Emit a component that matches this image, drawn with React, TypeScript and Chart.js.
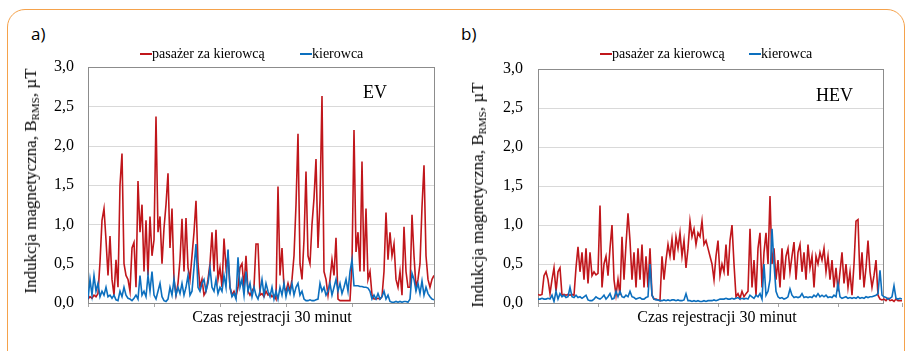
import React, { useEffect, useRef } from "react";
import { Chart, registerables } from "chart.js";

Chart.register(...registerables);

// ---- data ----
const EV_PASSENGER = [
  0.05, 0.08, 0.06, 0.1, 0.08, 0.12, 0.52, 1.05, 1.2, 0.8,
  0.35, 0.85, 0.3, 0.1, 0.55, 0.2, 1.5, 1.9, 0.5, 0.35,
  0.3, 0.15, 0.7, 0.77, 0.2, 1.55, 0.9, 1.25, 0.4, 1.05,
  0.35, 1.1, 0.6, 0.8, 2.37, 0.9, 1.1, 0.5, 0.95, 1.25,
  1.65, 0.7, 1.2, 0.3, 0.1, 0.25, 0.55, 1.07, 0.4, 1.08,
  0.45, 0.3, 0.6, 0.9, 1.3, 0.5, 0.2, 0.3, 0.1, 0.15,
  0.3, 0.5, 0.9, 0.4, 0.93, 0.3, 0.45, 0.2, 0.82, 0.45,
  0.6, 0.2, 0.1, 0.15, 0.08, 0.2, 0.45, 0.5, 0.2, 0.6,
  0.15, 0.1, 0.15, 0.2, 0.75, 0.75, 0.1, 0.12, 0.08, 0.15,
  0.1, 0.12, 0.08, 0.1, 0.05, 1.48, 0.35, 0.7, 0.2, 0.15,
  0.25, 0.15, 0.3, 0.6, 1.25, 2.15, 0.5, 0.3, 0.8, 1.67,
  0.6, 0.5, 1.0, 1.33, 1.83, 0.7, 1.3, 2.63, 0.4, 0.3,
  0.1, 0.3, 0.55, 0.35, 0.83, 0.05, 0.03, 0.03, 0.03, 0.03,
  0.03, 0.03, 0.5, 2.2, 0.65, 0.9, 0.4, 1.8, 0.4, 1.2,
  0.3, 0.4, 0.1, 0.05, 0.05, 0.06, 0.05, 0.08, 0.4, 1.15,
  0.55, 0.9, 0.6, 0.75, 0.3, 0.2, 0.4, 0.1, 0.97, 0.4,
  0.2, 0.2, 1.12, 0.6, 0.2, 0.3, 0.5, 1.22, 1.75, 0.6,
  0.3, 0.2, 0.3, 0.35,
];

const EV_DRIVER = [
  0.05, 0.3, 0.1, 0.35, 0.15, 0.25, 0.08, 0.15, 0.1, 0.2,
  0.08, 0.1, 0.06, 0.1, 0.04, 0.03, 0.15, 0.08, 0.2, 0.1,
  0.06, 0.05, 0.03, 0.06, 0.1, 0.05, 0.35, 0.1, 0.15, 0.08,
  0.35, 0.15, 0.4, 0.1, 0.05, 0.15, 0.25, 0.08, 0.03, 0.02,
  0.05, 0.2, 0.1, 0.3, 0.1, 0.2, 0.12, 0.25, 0.1, 0.2,
  0.35, 0.1, 0.15, 0.45, 0.75, 0.2, 0.15, 0.25, 0.3, 0.15,
  0.25, 0.45, 0.2, 0.15, 0.3, 0.12, 0.2, 0.15, 0.35, 0.2,
  0.68, 0.2, 0.08, 0.12, 0.05, 0.58, 0.2, 0.3, 0.1, 0.4,
  0.15, 0.25, 0.08, 0.2, 0.1, 0.05, 0.15, 0.3, 0.1, 0.25,
  0.15, 0.08, 0.2, 0.05, 0.15, 0.05, 0.2, 0.1, 0.25, 0.08,
  0.2, 0.12, 0.25, 0.1, 0.2, 0.25, 0.1, 0.15, 0.05, 0.03,
  0.03, 0.04, 0.03, 0.03, 0.04, 0.05, 0.25, 0.15, 0.2, 0.1,
  0.15, 0.25, 0.1, 0.2, 0.3, 0.15, 0.25, 0.12, 0.2, 0.3,
  0.15, 0.4, 0.55, 0.22, 0.22, 0.22, 0.21, 0.21, 0.2, 0.2,
  0.19, 0.15, 0.05, 0.1, 0.05, 0.12, 0.05, 0.08, 0.15, 0.05,
  0.1, 0.02, 0.01, 0.01, 0.02, 0.01, 0.02, 0.01, 0.02, 0.02,
  0.01, 0.05, 0.38, 0.3, 0.15, 0.25, 0.12, 0.28, 0.1, 0.2,
  0.12, 0.08, 0.05, 0.04,
];

const HEV_PASSENGER = [
  0.11, 0.1, 0.11, 0.35, 0.4, 0.3, 0.12, 0.3, 0.45, 0.15,
  0.4, 0.45, 0.1, 0.11, 0.1, 0.11, 0.1, 0.11, 0.1, 0.45,
  0.72, 0.4, 0.65, 0.3, 0.7, 0.25, 0.65, 0.35, 0.4, 0.36,
  0.38, 1.25, 0.2, 0.5, 0.6, 0.35, 0.7, 1.0, 0.3, 0.1,
  0.3, 0.1, 0.85, 0.3, 0.75, 1.15, 0.8, 0.3, 0.65, 0.2,
  0.7, 0.3, 0.75, 0.2, 0.6, 0.2, 0.7, 0.1, 0.05, 0.05,
  0.04, 0.03, 0.6, 0.3, 0.55, 0.75, 0.6, 0.82, 0.55, 0.85,
  0.7, 0.9, 0.6, 0.8, 0.45, 0.7, 1.05, 0.85, 0.95, 0.75,
  0.9, 0.85, 1.05, 0.75, 0.8, 0.7, 0.6, 0.5, 0.3, 0.6,
  0.8, 0.35, 0.5, 0.4, 0.75, 0.35, 0.8, 1.0, 0.5, 0.08,
  0.12, 0.06, 0.15, 0.08, 0.12, 0.15, 0.95, 0.2, 0.55, 0.1,
  0.7, 0.9, 0.2, 0.65, 0.9, 0.5, 1.37, 0.5, 0.7, 0.3,
  0.55, 0.2, 0.7, 0.3, 0.6, 0.7, 0.4, 0.6, 0.78, 0.3,
  0.65, 0.75, 0.4, 0.65, 0.3, 0.75, 0.45, 0.6, 0.2, 0.6,
  0.5, 0.65, 0.55, 0.7, 0.4, 0.6, 0.3, 0.55, 0.2, 0.45,
  0.15, 0.4, 0.65, 0.25, 0.5, 0.2, 0.4, 0.1, 0.5, 1.05,
  1.07, 0.3, 0.65, 0.2, 0.45, 0.8, 0.4, 0.2, 0.35, 0.55,
  0.1, 0.05, 0.04, 0.05, 0.03, 0.06, 0.03, 0.04, 0.02, 0.05,
  0.03, 0.03, 0.03,
];

const HEV_DRIVER = [
  0.05, 0.05, 0.06, 0.05, 0.05, 0.06, 0.05, 0.1, 0.02, 0.15,
  0.05, 0.12, 0.08, 0.1, 0.07, 0.08, 0.2, 0.08, 0.07, 0.1,
  0.07, 0.08, 0.06, 0.08, 0.1, 0.04, 0.03, 0.03, 0.05, 0.08,
  0.06, 0.05, 0.07, 0.1, 0.05, 0.08, 0.12, 0.05, 0.06, 0.15,
  0.08, 0.15, 0.08, 0.07, 0.1, 0.08, 0.15, 0.08, 0.07, 0.05,
  0.06, 0.07, 0.05, 0.05, 0.07, 0.08, 0.5, 0.1, 0.05, 0.04,
  0.04, 0.03, 0.03, 0.04, 0.03, 0.04, 0.03, 0.04, 0.04, 0.03,
  0.04, 0.03, 0.03, 0.04, 0.12, 0.03, 0.03, 0.02, 0.03, 0.02,
  0.03, 0.02, 0.02, 0.03, 0.02, 0.03, 0.03, 0.03, 0.04, 0.03,
  0.04, 0.05, 0.05, 0.05, 0.06, 0.05, 0.05, 0.06, 0.05, 0.06,
  0.07, 0.05, 0.06, 0.05, 0.06, 0.05, 0.1, 0.08, 0.06, 0.1,
  0.08, 0.12, 0.05, 0.5, 0.1, 0.15, 0.3, 0.95, 0.5, 0.15,
  0.08, 0.06, 0.07, 0.05, 0.06, 0.08, 0.18, 0.1, 0.07, 0.08,
  0.07, 0.08, 0.12, 0.07, 0.08, 0.07, 0.08, 0.07, 0.1, 0.08,
  0.12, 0.08, 0.1, 0.08, 0.1, 0.07, 0.08, 0.07, 0.1, 0.08,
  0.25, 0.08, 0.06, 0.07, 0.08, 0.06, 0.07, 0.06, 0.07, 0.06,
  0.08, 0.06, 0.07, 0.06, 0.08, 0.07, 0.08, 0.08, 0.09, 0.1,
  0.12, 0.42, 0.1, 0.08, 0.07, 0.05, 0.06, 0.08, 0.22, 0.06,
  0.05, 0.06, 0.05,
];

const Y_TICKS = [0, 0.5, 1, 1.5, 2, 2.5, 3];
const SERIES_NAMES = ["pasażer za kierowcą", "kierowca"];
const PANEL_LABELS = ["a)", "b)"];
const CAR_LABELS = ["EV", "HEV"];
const X_TITLE = "Czas rejestracji 30 minut";

const RED = "#C0161B";
const BLUE = "#0C6FBE";
const SERIF = "'Liberation Serif', 'Times New Roman', serif";

const framePlugin = {
  id: "frame",
  beforeDatasetsDraw(chart: any, _args: any, opts: any) {
    const { ctx, chartArea: a, scales } = chart;
    const y = scales.y;
    const right = opts && opts.right != null ? opts.right : a.right;
    ctx.save();
    ctx.lineWidth = 1;
    ctx.strokeStyle = "#D9D9D9";
    for (const v of Y_TICKS) {
      if (v === Y_TICKS[0] || v === Y_TICKS[Y_TICKS.length - 1]) continue;
      const py = Math.round(y.getPixelForValue(v)) + 0.5;
      ctx.beginPath();
      ctx.moveTo(a.left, py);
      ctx.lineTo(right, py);
      ctx.stroke();
    }
    ctx.strokeStyle = "#8C8C8C";
    const l = Math.round(a.left) + 0.5;
    const t = Math.round(a.top) + 0.5;
    const r = Math.round(right) + 0.5;
    const b = Math.round(a.bottom) + 0.5;
    ctx.strokeRect(l, t, r - l, b - t);
    ctx.restore();
  },
};

type PanelProps = {
  offsetX: number;
  red: number[];
  blue: number[];
  axisWidth: number;
  top: number;
  padRight: number;
  frameRight: number;
  stepSize: number;
  labelPad: number;
};

function PanelChart(p: PanelProps) {
  const ref = useRef<HTMLCanvasElement | null>(null);
  useEffect(() => {
    if (!ref.current) return;
    const n = p.red.length;
    const chart = new Chart(ref.current, {
      type: "line",
      data: {
        labels: p.red.map((_, i) => i),
        datasets: [
          {
            label: SERIES_NAMES[0],
            data: p.red,
            borderColor: RED,
            backgroundColor: RED,
            borderWidth: 1.6,
            pointRadius: 0,
            tension: 0,
            order: 1,
          },
          {
            label: SERIES_NAMES[1],
            data: p.blue,
            borderColor: BLUE,
            backgroundColor: BLUE,
            borderWidth: 1.6,
            pointRadius: 0,
            tension: 0,
            order: 0,
          },
        ],
      },
      options: {
        responsive: false,
        maintainAspectRatio: false,
        animation: false,
        layout: { padding: { left: 0, right: p.padRight, top: p.top, bottom: 44 } },
        plugins: {
          legend: { display: false },
          tooltip: { enabled: false },
          frame: { right: p.frameRight },
        } as any,
        scales: {
          x: {
            type: "linear",
            min: 0,
            max: n - 1,
            ticks: { display: false, stepSize: p.stepSize },
            grid: { drawOnChartArea: false, drawTicks: true, tickLength: 4, color: "#A6A6A6" },
            border: { display: false },
            afterFit: (s: any) => {
              s.height = 4;
            },
          },
          y: {
            min: 0,
            max: 3,
            ticks: {
              stepSize: 0.5,
              padding: p.labelPad,
              color: "#000",
              font: { family: SERIF, size: 16 },
              callback: (v: any) => Number(v).toFixed(1).replace(".", ","),
            },
            grid: { display: false },
            border: { display: false },
            afterFit: (s: any) => {
              s.width = p.axisWidth;
            },
          },
        } as any,
      },
      plugins: [framePlugin as any],
    });
    return () => chart.destroy();
  }, []);
  return (
    <canvas
      ref={ref}
      width={454}
      height={351}
      style={{ position: "absolute", left: p.offsetX, top: 0, width: 454, height: 351 }}
    />
  );
}

function Legend({ x1, x2 }: { x1: number; x2: number }) {
  const item = (x: number, color: string, text: string) => (
    <div
      style={{
        position: "absolute",
        left: x,
        top: 46,
        height: 16,
        display: "flex",
        alignItems: "center",
        whiteSpace: "nowrap",
        fontFamily: SERIF,
        fontSize: 14,
        color: "#000",
      }}
    >
      <span style={{ display: "inline-block", width: 12, height: 2, background: color, marginRight: 0 }} />
      <span>{text}</span>
    </div>
  );
  return (
    <>
      {item(x1, RED, SERIES_NAMES[0])}
      {item(x2, BLUE, SERIES_NAMES[1])}
    </>
  );
}

function abs(x: number, y: number, extra: any = {}) {
  return { position: "absolute" as const, left: x, top: y, whiteSpace: "nowrap" as const, ...extra };
}

function YTitle({ cx, cy }: { cx: number; cy: number }) {
  return (
    <div
      style={abs(cx, cy, {
        transform: "translate(-50%, -50%) rotate(-90deg)",
        fontFamily: SERIF,
        fontSize: 17,
        lineHeight: "20px",
        color: "#000",
      })}
    >
      Indukcja magnetyczna, B<sub style={{ fontSize: 11, verticalAlign: "-3px" }}>RMS</sub>, µT
    </div>
  );
}

function XTitle({ cx, cy }: { cx: number; cy: number }) {
  return (
    <div
      style={abs(cx, cy, {
        transform: "translate(-50%, -50%)",
        fontFamily: SERIF,
        fontSize: 16,
        lineHeight: "18px",
        color: "#000",
      })}
    >
      {X_TITLE}
    </div>
  );
}

export default function App() {
  return (
    <div
      style={{
        position: "absolute",
        left: 0,
        top: 0,
        width: 908,
        height: 351,
        overflow: "hidden",
        background: "#fff",
      }}
    >
      <div
        style={{
          position: "absolute",
          left: 7,
          top: 9,
          width: 898,
          height: 400,
          border: "1.5px solid #F5A24B",
          borderRadius: 18,
          boxSizing: "border-box",
        }}
      />
      <div style={abs(31, 24, { fontFamily: "'Open Sans', sans-serif", fontSize: 17, lineHeight: "20px" })}>
        {PANEL_LABELS[0]}
      </div>
      <div style={abs(461, 24, { fontFamily: "'Open Sans', sans-serif", fontSize: 17, lineHeight: "20px" })}>
        {PANEL_LABELS[1]}
      </div>

      <PanelChart
        offsetX={0}
        red={EV_PASSENGER}
        blue={EV_DRIVER}
        axisWidth={88}
        top={67}
        padRight={20}
        frameRight={434}
        stepSize={33}
        labelPad={6}
      />
      <PanelChart
        offsetX={454}
        red={HEV_PASSENGER}
        blue={HEV_DRIVER}
        axisWidth={84}
        top={69}
        padRight={6}
        frameRight={429}
        stepSize={30}
        labelPad={7}
      />

      <Legend x1={140} x2={300} />
      <Legend x1={600} x2={749} />

      <div style={abs(363, 81, { fontFamily: SERIF, fontSize: 18, lineHeight: "22px" })}>{CAR_LABELS[0]}</div>
      <div style={abs(816, 84, { fontFamily: SERIF, fontSize: 18, lineHeight: "22px" })}>{CAR_LABELS[1]}</div>

      <YTitle cx={33} cy={181} />
      <YTitle cx={480} cy={195} />
      <XTitle cx={272} cy={317} />
      <XTitle cx={717} cy={317} />
    </div>
  );
}
